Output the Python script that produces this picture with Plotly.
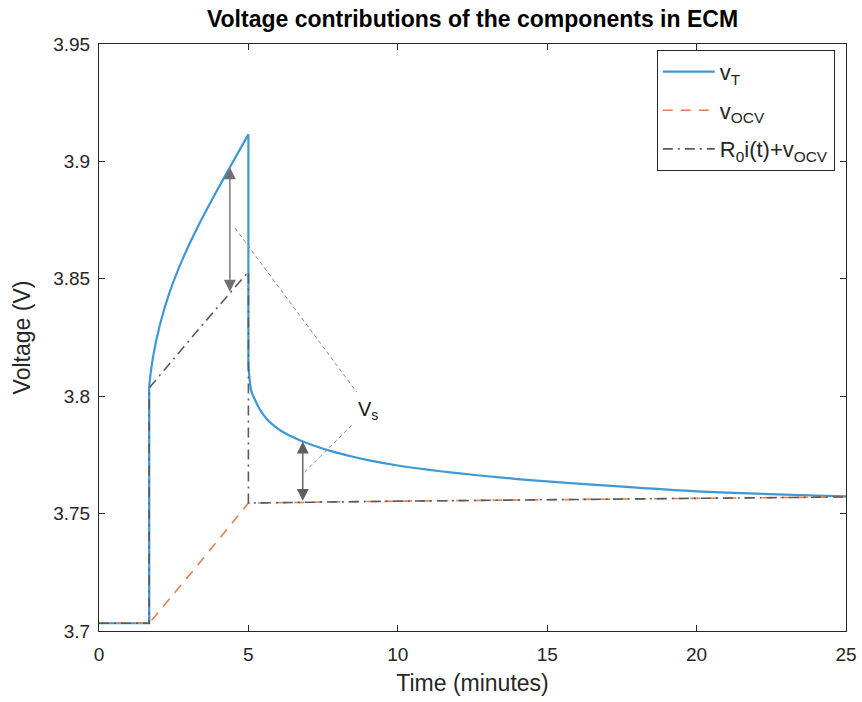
import numpy as np
import plotly.graph_objects as go

# ---- data (time in minutes, voltage in volts) ----
# terminal voltage, split into its four pieces: rest, pulse, relaxation drop, recovery
t_rest = [0, 1.68, 1.68]
v_rest = [3.7033, 3.7033, 3.8040]
t_pulse = [1.68, 1.72, 1.82, 2.04, 2.37, 2.82, 3.32, 3.88, 4.38, 5.0]
v_pulse = [3.8040, 3.8090, 3.8175, 3.8305, 3.8445, 3.8590, 3.8725, 3.8860,
           3.8975, 3.9115]
t_drop = [5.0, 5.0]
v_drop = [3.9115, 3.8135]
t_relax = [5.0, 5.05, 5.10, 5.20, 5.40, 5.60, 5.80, 6.10, 6.50, 6.82, 7.30,
           7.80, 8.50, 9.00, 10.0, 11.0, 12.0, 13.0, 14.0, 15.0, 16.5, 18.0,
           20.0, 22.0, 24.0, 25.0]
v_relax = [3.8135, 3.8060, 3.8020, 3.7990, 3.7940, 3.7905, 3.7880, 3.7852,
           3.7825, 3.7807, 3.7785, 3.7765, 3.7742, 3.7728, 3.7705, 3.7687,
           3.7672, 3.7659, 3.7647, 3.7637, 3.7623, 3.7611, 3.7595, 3.7585,
           3.7577, 3.7573]

t_ocv = [0, 1.68, 3.3, 5.0, 10.0, 15.0, 20.0, 25.0]
v_ocv = [3.7033, 3.7033, 3.7280, 3.7545, 3.7553, 3.7560, 3.7566, 3.7571]

t_r0 = [0, 1.68, 1.68, 3.3, 5.0, 5.0, 10.0, 15.0, 20.0, 25.0]
v_r0 = [3.7033, 3.7033, 3.8035, 3.8280, 3.8530, 3.7545, 3.7553, 3.7560,
        3.7566, 3.7571]

x_ticks = [0, 5, 10, 15, 20, 25]
y_ticks = [3.7, 3.75, 3.8, 3.85, 3.9, 3.95]
y_tick_text = ["3.7", "3.75", "3.8", "3.85", "3.9", "3.95"]

# annotation geometry (data units)
arrow_times = [4.38, 6.82]          # where the double arrows sit
guide1_t = [4.55, 8.62]
guide1_v = [3.8716, 3.8018]
guide2_t = [8.46, 6.88]
guide2_v = [3.7877, 3.7677]
vs_label_pos = (9.0, 3.7937)

FONT = "Liberation Sans, Arial, sans-serif"
AX = "#262626"
BLUE = "#3D98D8"

fig = go.Figure()

# terminal voltage v_T
pieces = [(t_rest, v_rest, "linear"), (t_pulse, v_pulse, "spline"),
          (t_drop, v_drop, "linear"), (t_relax, v_relax, "spline")]
for k, (tt, vv, shape) in enumerate(pieces):
    fig.add_trace(go.Scatter(
        x=tt, y=vv, mode="lines", name="v<sub>T</sub>", legendgroup="vT",
        showlegend=(k == 0),
        line=dict(color=BLUE, width=2.2, shape=shape, smoothing=0.8)))

fig.add_trace(go.Scatter(
    x=t_ocv, y=v_ocv, mode="lines", name="v<sub>OCV</sub>", legendgroup="ocv",
    line=dict(color="#E57F4F", width=1.6, dash="10px,8px")))
fig.add_trace(go.Scatter(
    x=t_r0, y=v_r0, mode="lines", name="R<sub>0</sub>i(t)+v<sub>OCV</sub>",
    legendgroup="r0",
    line=dict(color="#5A5A5A", width=1.6, dash="10px,5px,2px,5px")))

# thin dashed guide lines pointing at the V_s label
for gt, gv in ((guide1_t, guide1_v), (guide2_t, guide2_v)):
    fig.add_trace(go.Scatter(
        x=gt, y=gv, mode="lines", showlegend=False, hoverinfo="skip",
        line=dict(color="#8A8A8A", width=1, dash="4px,3px")))

# double-headed arrows: v_T vs R0 line, and v_T vs OCV
a1_top = float(np.interp(arrow_times[0], t_pulse, v_pulse))
a1_bot = float(np.interp(arrow_times[0], t_r0[2:5], v_r0[2:5]))
a2_top = float(np.interp(arrow_times[1], t_relax, v_relax))
a2_bot = float(np.interp(arrow_times[1], t_ocv, v_ocv))

annotations = []
for t_a, top, bot, col in ((arrow_times[0], a1_top, a1_bot, "#707070"),
                           (arrow_times[1], a2_top, a2_bot, "#5E5E5E")):
    annotations.append(dict(
        x=t_a, y=top, ax=t_a, ay=bot, xref="x", yref="y", axref="x",
        ayref="y", text="", showarrow=True, arrowhead=2, startarrowhead=2,
        arrowside="end+start", arrowsize=1.7, startarrowsize=1.7,
        arrowwidth=1.4, arrowcolor=col))

annotations.append(dict(
    x=vs_label_pos[0], y=vs_label_pos[1], xref="x", yref="y",
    text="V<sub>s</sub>", showarrow=False,
    font=dict(family=FONT, size=20, color="#1a1a1a")))

fig.update_layout(
    width=862, height=702,
    margin=dict(l=99, r=16, t=44, b=71, autoexpand=False),
    paper_bgcolor="white", plot_bgcolor="white",
    font=dict(family=FONT, size=18, color=AX),
    title=dict(text="<b>Voltage contributions of the components in ECM</b>",
               x=0.5, xref="paper", xanchor="center",
               y=1 - 19 / 702, yref="container", yanchor="middle",
               font=dict(family=FONT, size=23, color="#000000")),
    showlegend=True,
    legend=dict(x=0.985, y=0.99, xanchor="right", yanchor="top",
                bgcolor="white", bordercolor=AX, borderwidth=1,
                font=dict(family=FONT, size=22, color=AX),
                itemwidth=52, tracegroupgap=7),
    annotations=annotations,
)

fig.update_xaxes(
    range=[0, 25], tickvals=x_ticks, ticks="inside", ticklen=6,
    tickcolor=AX, showline=True, linecolor=AX, linewidth=1, mirror="ticks",
    showgrid=False, zeroline=False, ticklabelstandoff=6, automargin=False,
    tickfont=dict(size=19),
    title=dict(text="Time (minutes)", font=dict(size=23), standoff=11))
fig.update_yaxes(
    range=[3.7, 3.95], tickvals=y_ticks, ticktext=y_tick_text,
    ticks="inside", ticklen=6, tickcolor=AX, showline=True, linecolor=AX,
    linewidth=1, mirror="ticks", showgrid=False, zeroline=False,
    ticklabelstandoff=4, tickfont=dict(size=19), automargin=False,
    title=dict(text="Voltage (V)", font=dict(size=23), standoff=16))

fig.write_html("out.html")
